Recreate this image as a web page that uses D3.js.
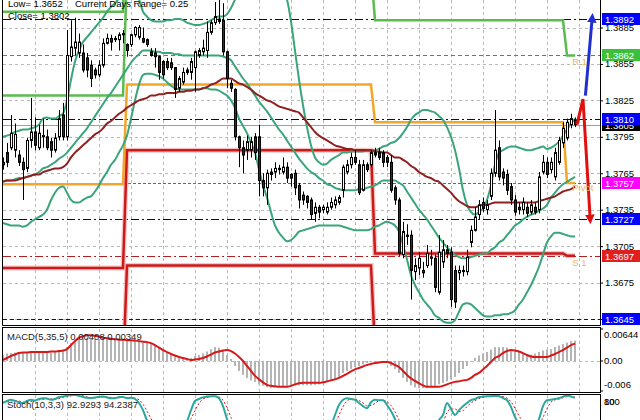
<!DOCTYPE html>
<html><head><meta charset="utf-8">
<script src="https://cdn.jsdelivr.net/npm/d3@7/dist/d3.min.js"></script>
<style>body{margin:0;background:#fff}svg{display:block}text{font-family:"Liberation Sans",Arial,sans-serif;white-space:pre}</style>
</head><body><svg id="c" width="640" height="420"></svg>
<script>
// ---------- DATA ----------
const open=[1.3774,1.3782,1.3786,1.3784,1.3780,1.3774,1.3769,1.3792,1.3799,1.3786,
1.3796,1.3795,1.3791,1.3784,1.3795,1.3813,1.3795,1.3861,1.3868,1.3864,
1.3864,1.3860,1.3854,1.3850,1.3846,1.3854,1.3872,1.3876,1.3875,1.3875,
1.3879,1.3871,1.3871,1.3879,1.3877,1.3876,1.3875,1.3865,1.3864,1.3861,
1.3857,1.3857,1.3856,1.3852,1.3835,1.3840,1.3848,1.3848,1.3852,1.3862,
1.3865,1.3866,1.3881,1.3889,1.3892,1.3891,1.3865,1.3839,1.3834,1.3795,
1.3786,1.3784,1.3784,1.3795,1.3795,1.3759,1.3753,1.3766,1.3766,1.3769,
1.3766,1.3770,1.3764,1.3765,1.3755,1.3747,1.3746,1.3743,1.3732,1.3737,
1.3735,1.3733,1.3737,1.3739,1.3741,1.3751,1.3766,1.3772,1.3778,1.3772,
1.3751,1.3772,1.3772,1.3780,1.3782,1.3782,1.3778,1.3774,1.3753,1.3743,
1.3698,1.3714,1.3714,1.3684,1.3687,1.3685,1.3689,1.3696,1.3695,1.3667,
1.3692,1.3702,1.3700,1.3685,1.3683,1.3685,1.3684,1.3708,1.3718,1.3731,
1.3741,1.3735,1.3746,1.3765,1.3786,1.3766,1.3764,1.3754,1.3743,1.3737,
1.3735,1.3737,1.3733,1.3737,1.3735,1.3766,1.3774,1.3768,1.3762,1.3774,
1.3790,1.3794,1.3805,1.3809];
const high=[1.3778,1.3790,1.3813,1.3806,1.3784,1.3778,1.3794,1.3827,1.3811,1.3805,
1.3810,1.3801,1.3794,1.3798,1.3817,1.3823,1.3883,1.3891,1.3893,1.3880,
1.3871,1.3864,1.3858,1.3852,1.3858,1.3876,1.3880,1.3879,1.3878,1.3881,
1.3883,1.3872,1.3880,1.3886,1.3887,1.3885,1.3876,1.3868,1.3868,1.3862,
1.3858,1.3860,1.3860,1.3852,1.3845,1.3852,1.3852,1.3860,1.3866,1.3868,
1.3875,1.3890,1.3891,1.3906,1.3908,1.3905,1.3866,1.3842,1.3835,1.3796,
1.3792,1.3796,1.3795,1.3798,1.3805,1.3765,1.3768,1.3769,1.3774,1.3772,
1.3778,1.3774,1.3765,1.3768,1.3757,1.3750,1.3747,1.3745,1.3741,1.3739,
1.3739,1.3741,1.3745,1.3746,1.3747,1.3772,1.3776,1.3782,1.3784,1.3776,
1.3776,1.3774,1.3784,1.3786,1.3786,1.3784,1.3780,1.3780,1.3755,1.3745,
1.3725,1.3723,1.3718,1.3695,1.3700,1.3692,1.3706,1.3702,1.3698,1.3714,
1.3710,1.3706,1.3704,1.3689,1.3689,1.3689,1.3702,1.3722,1.3737,1.3743,
1.3745,1.3743,1.3769,1.3817,1.3792,1.3769,1.3768,1.3757,1.3747,1.3741,
1.3745,1.3741,1.3743,1.3741,1.3766,1.3780,1.3778,1.3778,1.3786,1.3795,
1.3807,1.3810,1.3814,1.3811];
const low=[1.3768,1.3770,1.3784,1.3778,1.3771,1.3743,1.3766,1.3786,1.3784,1.3784,
1.3786,1.3784,1.3778,1.3782,1.3792,1.3792,1.3792,1.3857,1.3862,1.3860,
1.3848,1.3844,1.3836,1.3843,1.3844,1.3852,1.3871,1.3866,1.3873,1.3866,
1.3872,1.3861,1.3869,1.3877,1.3875,1.3872,1.3869,1.3861,1.3852,1.3842,
1.3843,1.3850,1.3850,1.3827,1.3832,1.3838,1.3846,1.3842,1.3832,1.3860,
1.3862,1.3860,1.3879,1.3887,1.3888,1.3862,1.3835,1.3832,1.3792,1.3770,
1.3765,1.3776,1.3778,1.3776,1.3746,1.3746,1.3739,1.3759,1.3761,1.3764,
1.3764,1.3757,1.3754,1.3747,1.3736,1.3739,1.3736,1.3727,1.3725,1.3728,
1.3732,1.3731,1.3735,1.3736,1.3739,1.3745,1.3764,1.3769,1.3772,1.3747,
1.3750,1.3766,1.3770,1.3778,1.3776,1.3770,1.3770,1.3749,1.3739,1.3697,
1.3695,1.3706,1.3661,1.3677,1.3681,1.3679,1.3687,1.3689,1.3667,1.3665,
1.3687,1.3695,1.3655,1.3654,1.3677,1.3680,1.3681,1.3704,1.3717,1.3727,
1.3733,1.3731,1.3743,1.3762,1.3759,1.3755,1.3747,1.3739,1.3730,1.3731,
1.3731,1.3729,1.3731,1.3731,1.3732,1.3764,1.3761,1.3765,1.3759,1.3772,
1.3786,1.3792,1.3802,1.3803];
const close=[1.3772,1.3774,1.3798,1.3797,1.3774,1.3768,1.3792,1.3799,1.3788,1.3798,
1.3795,1.3786,1.3784,1.3794,1.3810,1.3795,1.3862,1.3869,1.3873,1.3873,
1.3850,1.3850,1.3843,1.3846,1.3854,1.3872,1.3876,1.3873,1.3876,1.3879,
1.3880,1.3866,1.3879,1.3885,1.3885,1.3873,1.3871,1.3862,1.3861,1.3848,
1.3846,1.3852,1.3852,1.3834,1.3843,1.3848,1.3850,1.3857,1.3865,1.3866,
1.3868,1.3881,1.3889,1.3894,1.3890,1.3865,1.3843,1.3835,1.3795,1.3786,
1.3780,1.3791,1.3791,1.3782,1.3759,1.3753,1.3765,1.3764,1.3769,1.3768,
1.3770,1.3761,1.3761,1.3753,1.3743,1.3743,1.3741,1.3731,1.3737,1.3733,
1.3737,1.3737,1.3741,1.3743,1.3745,1.3770,1.3772,1.3778,1.3774,1.3749,
1.3772,1.3768,1.3782,1.3782,1.3778,1.3774,1.3774,1.3751,1.3743,1.3699,
1.3717,1.3713,1.3685,1.3689,1.3695,1.3683,1.3699,1.3695,1.3671,1.3700,
1.3702,1.3699,1.3661,1.3659,1.3685,1.3684,1.3696,1.3718,1.3729,1.3739,
1.3736,1.3739,1.3765,1.3784,1.3762,1.3761,1.3751,1.3743,1.3733,1.3735,
1.3741,1.3732,1.3739,1.3733,1.3762,1.3774,1.3764,1.3774,1.3782,1.3792,
1.3802,1.3807,1.3810,1.3805];
const bbUpper=[1.3795,1.3796,1.3797,1.3799,1.3800,1.3801,1.3801,1.3802,1.3803,1.3805,
1.3810,1.3811,1.3810,1.3810,1.3812,1.3814,1.3825,1.3842,1.3857,1.3866,
1.3873,1.3877,1.3881,1.3885,1.3889,1.3893,1.3898,1.3902,1.3905,1.3909,
1.3913,1.3914,1.3914,1.3912,1.3908,1.3898,1.3894,1.3891,1.3890,1.3890,
1.3890,1.3891,1.3891,1.3892,1.3892,1.3891,1.3889,1.3888,1.3887,1.3887,
1.3888,1.3889,1.3891,1.3893,1.3894,1.3894,1.3896,1.3901,1.3908,1.3916,
1.3924,1.3931,1.3935,1.3937,1.3941,1.3942,1.3941,1.3936,1.3931,1.3922,
1.3914,1.3908,1.3890,1.3866,1.3842,1.3821,1.3803,1.3788,1.3778,1.3774,
1.3772,1.3773,1.3776,1.3778,1.3780,1.3782,1.3782,1.3783,1.3783,1.3783,
1.3783,1.3784,1.3784,1.3784,1.3785,1.3787,1.3788,1.3790,1.3791,1.3794,
1.3798,1.3803,1.3809,1.3813,1.3815,1.3817,1.3817,1.3816,1.3815,1.3812,
1.3809,1.3803,1.3795,1.3784,1.3769,1.3751,1.3739,1.3733,1.3731,1.3733,
1.3736,1.3743,1.3755,1.3772,1.3782,1.3784,1.3786,1.3787,1.3787,1.3786,
1.3785,1.3784,1.3784,1.3785,1.3786,1.3787,1.3785,1.3786,1.3788,1.3791,
1.3796,1.3801,1.3806,1.3810];
const bbMiddle=[1.3758,1.3759,1.3759,1.3760,1.3761,1.3761,1.3762,1.3763,1.3764,1.3766,
1.3769,1.3770,1.3772,1.3774,1.3777,1.3779,1.3782,1.3786,1.3790,1.3794,
1.3798,1.3802,1.3807,1.3812,1.3817,1.3822,1.3827,1.3831,1.3836,1.3841,
1.3846,1.3851,1.3856,1.3860,1.3863,1.3866,1.3866,1.3866,1.3865,1.3865,
1.3864,1.3864,1.3864,1.3863,1.3863,1.3862,1.3862,1.3862,1.3862,1.3862,
1.3862,1.3862,1.3862,1.3862,1.3862,1.3861,1.3860,1.3858,1.3853,1.3848,
1.3843,1.3839,1.3834,1.3829,1.3824,1.3820,1.3816,1.3811,1.3806,1.3801,
1.3797,1.3792,1.3787,1.3782,1.3777,1.3773,1.3769,1.3766,1.3764,1.3761,
1.3759,1.3756,1.3755,1.3753,1.3752,1.3751,1.3751,1.3751,1.3751,1.3752,
1.3752,1.3753,1.3754,1.3755,1.3757,1.3759,1.3759,1.3759,1.3759,1.3757,
1.3755,1.3750,1.3745,1.3740,1.3735,1.3731,1.3727,1.3722,1.3717,1.3712,
1.3708,1.3704,1.3701,1.3698,1.3696,1.3695,1.3695,1.3696,1.3697,1.3698,
1.3699,1.3699,1.3702,1.3704,1.3708,1.3710,1.3714,1.3718,1.3722,1.3724,
1.3727,1.3729,1.3731,1.3732,1.3734,1.3736,1.3739,1.3745,1.3749,1.3753,
1.3756,1.3758,1.3760,1.3762];
const bbLower=[1.3724,1.3723,1.3722,1.3722,1.3722,1.3721,1.3722,1.3725,1.3727,1.3729,
1.3731,1.3735,1.3743,1.3749,1.3753,1.3754,1.3749,1.3743,1.3741,1.3741,
1.3743,1.3745,1.3746,1.3750,1.3755,1.3761,1.3766,1.3772,1.3776,1.3782,
1.3788,1.3796,1.3810,1.3825,1.3838,1.3846,1.3847,1.3847,1.3846,1.3845,
1.3843,1.3840,1.3837,1.3835,1.3834,1.3834,1.3834,1.3834,1.3834,1.3834,
1.3835,1.3835,1.3834,1.3834,1.3833,1.3831,1.3829,1.3825,1.3819,1.3810,
1.3804,1.3798,1.3790,1.3782,1.3768,1.3755,1.3745,1.3733,1.3722,1.3716,
1.3712,1.3709,1.3710,1.3713,1.3717,1.3718,1.3719,1.3720,1.3721,1.3722,
1.3722,1.3722,1.3722,1.3722,1.3722,1.3721,1.3720,1.3719,1.3718,1.3718,
1.3718,1.3718,1.3719,1.3721,1.3722,1.3724,1.3725,1.3724,1.3722,1.3717,
1.3706,1.3694,1.3681,1.3673,1.3667,1.3661,1.3657,1.3653,1.3648,1.3646,
1.3643,1.3642,1.3642,1.3644,1.3651,1.3657,1.3658,1.3657,1.3654,1.3651,
1.3648,1.3647,1.3647,1.3648,1.3648,1.3649,1.3649,1.3650,1.3652,1.3657,
1.3661,1.3667,1.3673,1.3680,1.3688,1.3698,1.3708,1.3713,1.3716,1.3716,
1.3715,1.3714,1.3713,1.3713];
const maSlow=[1.3758,1.3759,1.3759,1.3759,1.3760,1.3761,1.3762,1.3763,1.3764,1.3764,
1.3766,1.3767,1.3768,1.3769,1.3769,1.3770,1.3773,1.3778,1.3782,1.3785,
1.3788,1.3791,1.3794,1.3797,1.3799,1.3802,1.3806,1.3808,1.3811,1.3814,
1.3816,1.3819,1.3821,1.3823,1.3825,1.3826,1.3827,1.3829,1.3829,1.3830,
1.3830,1.3831,1.3831,1.3831,1.3832,1.3832,1.3833,1.3833,1.3834,1.3834,
1.3835,1.3836,1.3838,1.3839,1.3841,1.3843,1.3843,1.3843,1.3841,1.3839,
1.3838,1.3836,1.3834,1.3831,1.3829,1.3827,1.3825,1.3824,1.3822,1.3820,
1.3819,1.3818,1.3817,1.3816,1.3815,1.3811,1.3807,1.3803,1.3799,1.3796,
1.3794,1.3792,1.3790,1.3788,1.3787,1.3786,1.3785,1.3785,1.3784,1.3784,
1.3784,1.3784,1.3784,1.3783,1.3783,1.3782,1.3782,1.3780,1.3778,1.3778,
1.3776,1.3774,1.3771,1.3769,1.3766,1.3764,1.3762,1.3761,1.3759,1.3758,
1.3755,1.3752,1.3749,1.3745,1.3742,1.3740,1.3738,1.3737,1.3737,1.3738,
1.3739,1.3739,1.3740,1.3741,1.3741,1.3741,1.3741,1.3741,1.3741,1.3741,
1.3741,1.3741,1.3741,1.3741,1.3742,1.3743,1.3744,1.3745,1.3746,1.3748,
1.3750,1.3751,1.3752,1.3754];
// daily pivot levels: segment start/end bar indices
const segStart=[0,31,93,141];
const segEnd=[30,92,140,143];
const r2Levels=[1.3898,1.3990,1.3960,1.3960];
const r1Levels=[1.3829,1.3932,1.3891,1.3862];
const pivotLevels=[1.3756,1.3838,1.3807,1.3757];
const s1Levels=[1.3687,1.3784,1.3699,1.3697];
const s2Levels=[1.3600,1.3689,1.3620,1.3620];
// horizontal marker lines
const hLevels=[1.3892,1.3862,1.3810,1.3757,1.3727,1.3697,1.3645];
const hColors=["#000080","#33a033","#000080","#ff00ff","#000080","#b02020","#0000c0"];
const hDash=["8,3,2,3","4,3","8,3,2,3","3,2","8,3,2,3","8,3,2,3","4,3"];
const boxColors=["#0000ff","#3cbf3c","#0000ff","#ff00ff","#0000ff","#e02020","#0000ff"];
const bidPrice=1.3805;
const priceTicks=[1.3885,1.3855,1.3825,1.3795,1.3765,1.3735,1.3705,1.3675,1.3645];
const arrowRed=[[143.5,1.3805],[145,1.3826],[146.8,1.3727]];
const arrowBlue=[[145.6,1.3829],[147.3,1.3893]];
const pivLabels=[{t:"R 1",i:142.3,p:1.3854},{t:"Pivot",i:142.3,p:1.3750},{t:"S 1",i:142.3,p:1.3689}];
// MACD(5,35,5)
const macdHist=[0.0012,0.0015,0.0016,0.0017,0.0018,0.0018,0.0017,0.0018,0.0019,0.0018,
0.0018,0.0018,0.0017,0.0018,0.0019,0.0020,0.0028,0.0036,0.0042,0.0046,
0.0047,0.0046,0.0045,0.0044,0.0044,0.0045,0.0045,0.0045,0.0044,0.0044,
0.0043,0.0041,0.0041,0.0041,0.0041,0.0039,0.0037,0.0034,0.0031,0.0026,
0.0021,0.0018,0.0015,0.0010,0.0006,0.0005,0.0005,0.0006,0.0010,0.0012,
0.0015,0.0019,0.0024,0.0028,0.0027,0.0021,0.0012,0.0004,-0.0010,-0.0020,
-0.0028,-0.0034,-0.0039,-0.0042,-0.0047,-0.0050,-0.0053,-0.0054,-0.0053,-0.0052,
-0.0051,-0.0050,-0.0050,-0.0049,-0.0049,-0.0049,-0.0049,-0.0049,-0.0048,-0.0047,
-0.0045,-0.0042,-0.0039,-0.0036,-0.0032,-0.0024,-0.0020,-0.0016,-0.0012,-0.0010,
-0.0007,-0.0004,-0.0003,-0.0002,-0.0001,-0.0002,-0.0003,-0.0010,-0.0016,-0.0024,
-0.0034,-0.0042,-0.0049,-0.0053,-0.0055,-0.0055,-0.0054,-0.0052,-0.0050,-0.0047,
-0.0044,-0.0041,-0.0037,-0.0032,-0.0024,-0.0016,-0.0010,-0.0002,0.0006,0.0011,
0.0015,0.0018,0.0023,0.0028,0.0028,0.0028,0.0027,0.0024,0.0021,0.0018,
0.0015,0.0013,0.0013,0.0015,0.0018,0.0021,0.0023,0.0024,0.0028,0.0031,
0.0034,0.0037,0.0040,0.0041];
const macdSignal=[0.0002,0.0006,0.0010,0.0013,0.0016,0.0017,0.0017,0.0018,0.0018,0.0018,
0.0018,0.0018,0.0019,0.0019,0.0020,0.0021,0.0024,0.0032,0.0040,0.0047,
0.0050,0.0052,0.0052,0.0051,0.0049,0.0047,0.0046,0.0045,0.0044,0.0043,
0.0043,0.0042,0.0042,0.0041,0.0040,0.0039,0.0038,0.0036,0.0032,0.0027,
0.0022,0.0018,0.0014,0.0011,0.0008,0.0006,0.0004,0.0002,0.0003,0.0004,
0.0006,0.0009,0.0013,0.0017,0.0019,0.0021,0.0022,0.0020,0.0015,0.0008,
0.0000,-0.0010,-0.0020,-0.0030,-0.0037,-0.0043,-0.0048,-0.0050,-0.0051,-0.0052,
-0.0052,-0.0052,-0.0050,-0.0047,-0.0045,-0.0044,-0.0044,-0.0044,-0.0044,-0.0044,
-0.0043,-0.0041,-0.0039,-0.0037,-0.0034,-0.0030,-0.0026,-0.0021,-0.0017,-0.0014,
-0.0011,-0.0008,-0.0006,-0.0004,-0.0003,-0.0002,-0.0002,-0.0004,-0.0008,-0.0012,
-0.0020,-0.0028,-0.0035,-0.0040,-0.0045,-0.0049,-0.0052,-0.0052,-0.0052,-0.0052,
-0.0050,-0.0047,-0.0044,-0.0042,-0.0041,-0.0039,-0.0038,-0.0034,-0.0028,-0.0024,
-0.0017,-0.0010,-0.0002,0.0006,0.0010,0.0016,0.0020,0.0022,0.0021,0.0019,
0.0016,0.0012,0.0009,0.0008,0.0008,0.0008,0.0008,0.0011,0.0014,0.0018,
0.0022,0.0027,0.0032,0.0035];
const macdTicks=[{v:0.00644,t:"0.00644",ty:338},{v:0,t:"0.00",ty:364},{v:-0.00604,t:"-0.006",ty:388}];
// Stochastic(10,3,3)
const stochMain=[80,85,88,85,82,80,85,88,86,90,92,91,88,90,95,96,98,100,100,98,
95,93,92,94,95,96,94,92,92,95,95,92,93,90,80,62,37,25,20,15,
12,15,18,10,18,25,35,62,85,90,94,96,97,97,92,72,40,20,8,8,
10,15,18,12,5,8,15,14,18,17,20,15,12,8,5,6,5,4,10,8,
10,12,25,50,75,88,92,90,88,80,72,67,82,88,87,87,75,60,40,15,
18,20,10,12,14,12,18,20,10,37,50,80,65,50,62,72,80,87,90,95,
96,97,97,98,97,92,87,70,45,30,28,25,22,20,40,72,87,88,90,92,
96,99,96,92.93];
const stochSignal=[82,83,85,86,85,82,82,84,86,88,89,91,90,90,91,94,96,98,99,99,
98,95,93,93,94,95,95,94,93,93,94,94,93,92,88,77,60,41,27,20,
16,14,15,14,15,18,26,41,61,79,90,93,96,97,95,87,68,44,23,12,
9,11,14,15,12,8,9,12,16,16,18,17,16,12,8,6,5,5,6,7,
9,10,16,29,50,71,85,90,90,86,80,73,74,79,86,87,83,74,58,38,
24,18,16,14,12,13,15,17,16,22,32,56,65,65,59,61,71,80,86,91,
94,96,97,97,97,96,92,83,67,48,34,28,25,22,27,44,66,82,88,90,
93,96,97,94.24];
const stochTicks=["100","80"];
const headerLow="Low= 1.3652", headerRange="Current Days Range= 0.25", headerClose="Close= 1.3802";
const macdTitle="MACD(5,35,5) 0.00408 0.00349";
const stochTitle="Stoch(10,3,3) 92.9293 94.2387";

// ---------- LAYOUT ----------
const FS=9.5;
const svg=d3.select("#c");
const L=3,R=600;
const main={top:0,bottom:325}, mp={top:329,bottom:392}, sp={top:395,bottom:440};
const x=d3.scaleLinear().domain([0,143]).range([3,575]);
const y=d3.scaleLinear().domain([1.3645,1.3892]).range([319,19]);
const yM=d3.scaleLinear().domain([-0.00604,0.00644]).range([391,329]);
const yS=d3.scaleLinear().domain([0,100]).range([435,395]);
const defs=svg.append("defs");
[["cm",main],["cmacd",mp],["cst",sp]].forEach(([id,p])=>{
  defs.append("clipPath").attr("id",id).append("rect").attr("x",L).attr("y",p.top).attr("width",R-L).attr("height",p.bottom-p.top);
});
const mk=(id,col)=>{defs.append("marker").attr("id",id).attr("viewBox","0 0 10 10").attr("refX",5).attr("refY",5)
 .attr("markerWidth",3.2).attr("markerHeight",3.2).attr("orient","auto").append("path").attr("d","M0,0L10,5L0,10z").attr("fill",col);};
mk("ahr","#e01010");mk("ahb","#2030d0");

const gridCol="#b8b8b8";
const gx=d3.range(35,R,32);
[main,mp,sp].forEach(p=>{
  svg.append("g").selectAll("line").data(gx).join("line")
   .attr("x1",d=>d+0.5).attr("x2",d=>d+0.5).attr("y1",p.top).attr("y2",Math.min(p.bottom,420))
   .attr("stroke",gridCol).attr("stroke-dasharray","3,3");
});
const gm=svg.append("g").attr("clip-path","url(#cm)");
gm.selectAll("line.h").data(priceTicks).join("line").attr("x1",L).attr("x2",R)
 .attr("y1",d=>Math.round(y(d))+0.5).attr("y2",d=>Math.round(y(d))+0.5).attr("stroke",gridCol).attr("stroke-dasharray","3,3");
gm.append("line").attr("x1",L).attr("x2",R).attr("y1",Math.round(y(bidPrice))+0.5).attr("y2",Math.round(y(bidPrice))+0.5).attr("stroke","#a0a0a0");
hLevels.forEach((v,k)=>{
  gm.append("line").attr("x1",L).attr("x2",R).attr("y1",Math.round(y(v))+0.5).attr("y2",Math.round(y(v))+0.5)
   .attr("stroke",hColors[k]).attr("stroke-dasharray",hDash[k]);
});
function stepPts(levels){
  const pts=[];
  levels.forEach((v,k)=>{pts.push([x(segStart[k]),y(v)]);pts.push([x(segEnd[k]),y(v)]);});
  return pts;
}
const ln=d3.line();
[s1Levels,s2Levels].forEach(lv=>{
  gm.append("path").attr("d",ln(stepPts(lv))).attr("fill","none").attr("stroke","#f6b4b4").attr("stroke-width",5).attr("opacity",0.8);
});
[[r2Levels,"#5bbb4f"],[r1Levels,"#5bbb4f"],[pivotLevels,"#f2a62a"],[s1Levels,"#cc1a1a"],[s2Levels,"#cc1a1a"]].forEach(([lv,c])=>{
  gm.append("path").attr("d",ln(stepPts(lv))).attr("fill","none").attr("stroke",c).attr("stroke-width",2.5);
});
const idx=d3.range(open.length);
const lineOf=arr=>d3.line().x(i=>x(i)).y(i=>y(arr[i])).curve(d3.curveMonotoneX)(idx);
[bbUpper,bbMiddle,bbLower].forEach(a=>gm.append("path").attr("d",lineOf(a)).attr("fill","none").attr("stroke","#3aa57a").attr("stroke-width",2));
gm.append("path").attr("d",lineOf(maSlow)).attr("fill","none").attr("stroke","#8e2020").attr("stroke-width",2);
const cg=gm.append("g");
cg.selectAll("line").data(idx).join("line")
 .attr("x1",i=>Math.round(x(i))+0.5).attr("x2",i=>Math.round(x(i))+0.5)
 .attr("y1",i=>y(high[i])).attr("y2",i=>y(low[i])).attr("stroke","#000");
cg.selectAll("rect").data(idx).join("rect")
 .attr("x",i=>Math.round(x(i))-0.5).attr("width",2)
 .attr("y",i=>y(Math.max(open[i],close[i]))).attr("height",i=>Math.max(1,Math.abs(y(open[i])-y(close[i]))))
 .attr("fill",i=>close[i]>=open[i]?"#ffffff":"#1d3b1d").attr("stroke","#000").attr("stroke-width",1);
const lp=d3.line().x(d=>x(d[0])).y(d=>y(d[1]));
gm.append("path").attr("d",lp(arrowRed)).attr("fill","none").attr("stroke","#e01010").attr("stroke-width",3).attr("marker-end","url(#ahr)");
gm.append("path").attr("d",lp(arrowBlue)).attr("fill","none").attr("stroke","#2030d0").attr("stroke-width",3).attr("marker-end","url(#ahb)");
pivLabels.forEach(d=>gm.append("text").attr("x",x(d.i)).attr("y",y(d.p)).attr("font-size",FS).attr("fill","#e9b85e").text(d.t));
// header text
svg.append("text").attr("x",8).attr("y",7).attr("font-size",FS).text(headerLow);
svg.append("text").attr("x",75).attr("y",7).attr("font-size",FS).text(headerRange);
svg.append("text").attr("x",8).attr("y",19).attr("font-size",FS).text(headerClose);

// right price axis
const ax=svg.append("g").attr("transform",`translate(${R},0)`)
 .call(d3.axisRight(y).tickValues(priceTicks).tickSize(3).tickFormat(d3.format(".4f")));
ax.select(".domain").remove();
ax.selectAll("text").attr("font-size",FS).attr("font-family","Liberation Sans").attr("x",5);
ax.selectAll("line").attr("stroke","#000");
function box(v,col,txt){
  const yy=Math.round(y(v));
  svg.append("rect").attr("x",R+2).attr("y",yy-6).attr("width",38).attr("height",12).attr("fill",col);
  svg.append("text").attr("x",R+5).attr("y",yy+4).attr("font-size",FS).attr("fill","#fff").text(txt);
}
box(bidPrice,"#000",d3.format(".4f")(bidPrice));
hLevels.forEach((v,k)=>box(v,boxColors[k],d3.format(".4f")(v)));

// ---------- MACD ----------
const gmc=svg.append("g").attr("clip-path","url(#cmacd)");
gmc.append("line").attr("x1",L).attr("x2",R).attr("y1",Math.round(yM(0))+0.5).attr("y2",Math.round(yM(0))+0.5).attr("stroke",gridCol).attr("stroke-dasharray","3,3");
gmc.selectAll("rect").data(idx).join("rect")
 .attr("x",i=>Math.round(x(i))-1).attr("width",2)
 .attr("y",i=>Math.min(yM(0),yM(macdHist[i]))).attr("height",i=>Math.abs(yM(0)-yM(macdHist[i])))
 .attr("fill","#b4b4b4");
gmc.append("path").attr("d",d3.line().x(i=>x(i)).y(i=>yM(macdSignal[i])).curve(d3.curveMonotoneX)(idx))
 .attr("fill","none").attr("stroke","#d81818").attr("stroke-width",2);
svg.append("text").attr("x",7).attr("y",340).attr("font-size",FS).attr("fill","#222").text(macdTitle);
macdTicks.forEach(d=>{
  svg.append("text").attr("x",R+4).attr("y",d.ty).attr("font-size",FS).attr("fill","#000").text(d.t);
  svg.append("line").attr("x1",R).attr("x2",R+3).attr("y1",yM(d.v)).attr("y2",yM(d.v)).attr("stroke","#000");
});

// ---------- Stochastic ----------
const gst=svg.append("g").attr("clip-path","url(#cst)");
gst.append("path").attr("d",d3.line().x(i=>x(i)).y(i=>yS(stochSignal[i])).curve(d3.curveMonotoneX)(idx))
 .attr("fill","none").attr("stroke","#d81818").attr("stroke-width",1).attr("stroke-dasharray","2,2");
gst.append("path").attr("d",d3.line().x(i=>x(i)).y(i=>yS(stochMain[i])).curve(d3.curveMonotoneX)(idx))
 .attr("fill","none").attr("stroke","#2aa8a0").attr("stroke-width",2);
svg.append("text").attr("x",7).attr("y",408).attr("font-size",FS).attr("fill","#222").text(stochTitle);
stochTicks.forEach(t=>svg.append("text").attr("x",R+4).attr("y",405).attr("font-size",FS).attr("fill","#000").text(t));

// panel borders
svg.append("path").attr("d",`M${L-0.5},0V${main.bottom+0.5}H${R+0.5}V0`).attr("fill","none").attr("stroke","#000");
svg.append("rect").attr("x",L-0.5).attr("y",mp.top-1.5).attr("width",R-L+1).attr("height",mp.bottom-mp.top+2).attr("fill","none").attr("stroke","#000");
svg.append("rect").attr("x",L-0.5).attr("y",sp.top-0.5).attr("width",R-L+1).attr("height",60).attr("fill","none").attr("stroke","#000");
</script></body></html>
